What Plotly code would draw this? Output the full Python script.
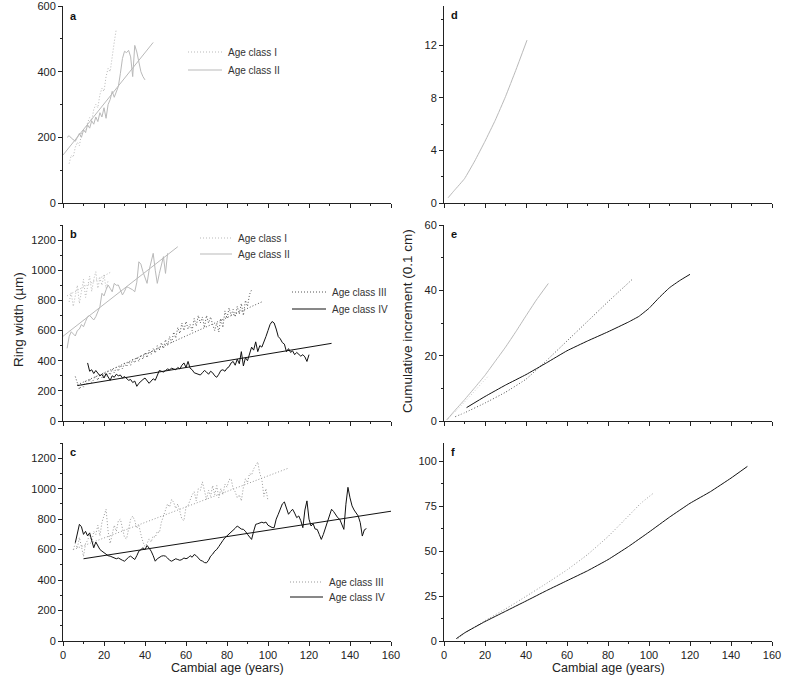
import plotly.graph_objects as go
from plotly.subplots import make_subplots

# ---------------- DATA ----------------
# Panel a (ring width, µm)
a_I_age = [3,4,5,6,7,8,9,10,11,12,13,14,15,16,17,18,19,20,21,22,23,24,25,26]
a_I_val = [120,145,140,170,185,175,210,225,215,245,260,250,285,300,290,330,350,340,385,410,400,450,490,530]
a_II_age = list(range(2, 41))
a_II_val = [200,205,198,192,188,200,212,200,222,215,238,228,250,240,262,248,275,262,290,258,
            300,315,340,322,338,355,395,440,462,458,465,445,385,480,460,430,400,385,375]
a_II_fit_age = [0, 44]
a_II_fit_val = [146, 489]

# Panel b
b_I_age = list(range(3, 23))
b_I_val = [790,850,760,830,900,780,870,940,820,900,960,860,940,990,880,950,900,970,880,930]
b_I_fit_age = [2, 23]
b_I_fit_val = [830, 985]
b_II_age = list(range(2, 52))
b_II_val = [482,560,592,575,564,600,610,640,625,660,692,700,681,670,692,720,758,847,830,870,
            902,880,857,913,900,902,870,836,860,891,885,880,870,857,920,1056,1040,990,957,913,
            1000,1056,1112,1000,913,979,1040,1090,979,1112]
b_II_fit_age = [0, 56]
b_II_fit_val = [562, 1156]
b_III_age = list(range(6, 93))
b_III_val = [295,250,210,240,225,265,240,280,255,275,300,270,310,285,320,295,330,305,345,320,
             355,330,370,345,385,360,395,370,410,385,425,395,440,410,455,420,470,440,480,450,
             500,470,520,480,540,500,560,520,590,550,620,580,650,600,660,610,640,600,680,630,
             700,650,690,620,700,650,690,640,600,650,590,680,620,730,680,750,700,740,690,760,
             710,780,700,800,760,840,870]
b_III_fit_age = [7, 97]
b_III_fit_val = [240, 790]
b_IV_age = list(range(12, 121))
b_IV_val = [385,330,340,315,335,320,300,310,285,315,290,270,300,290,310,300,305,285,295,280,
            270,275,255,265,230,250,265,275,285,265,250,265,280,270,300,335,330,325,335,345,
            340,350,345,340,355,345,370,385,355,395,350,340,320,315,310,305,320,335,325,310,
            330,320,300,290,310,335,340,330,350,360,385,395,370,410,380,460,365,420,400,450,
            490,470,525,460,500,490,520,560,600,640,660,650,610,560,545,520,510,460,480,455,
            465,440,455,445,430,440,425,395,440]
b_IV_fit_age = [7, 131]
b_IV_fit_val = [235, 515]

# Panel c
c_III_age = list(range(5, 101))
c_III_val = [600,640,610,680,620,555,640,660,700,650,720,700,760,690,780,820,865,720,640,700,
             760,720,790,800,740,680,670,740,800,820,790,740,760,700,650,620,640,670,650,690,
             680,720,710,780,820,860,900,880,930,910,870,900,840,800,790,880,890,930,960,980,
             920,1000,990,1045,980,930,990,950,1020,960,1020,940,1000,960,1030,1010,1060,1065,1000,980,
             940,960,920,1010,1065,1040,1100,1090,1130,1150,1175,1100,1060,950,1000,920]
c_III_fit_age = [5, 110]
c_III_fit_val = [600, 1135]
c_IV_age = list(range(6, 149))
c_IV_val = [645,710,766,750,700,720,690,710,667,612,650,620,601,590,579,570,560,557,550,546,
            540,545,535,530,524,540,550,557,545,535,560,590,600,612,600,627,610,590,560,524,
            540,550,557,560,557,545,530,524,530,540,535,530,535,545,540,546,560,550,568,560,
            545,530,525,515,513,530,557,570,590,601,620,645,660,678,690,700,710,722,740,755,
            745,735,733,720,700,680,667,720,766,770,777,780,775,781,760,750,745,744,800,832,
            870,900,913,870,832,850,865,840,810,821,790,744,860,920,800,755,770,735,733,700,
            667,700,740,777,820,865,850,830,810,799,760,733,898,1009,940,887,860,840,821,777,
            689,730,738]
c_IV_fit_age = [10, 160]
c_IV_fit_val = [540, 852]

# Panel d (cumulative increment, 0.1 cm)
d_II_age = [2,5,10,15,20,25,30,35,40.5]
d_II_val = [0.4,0.95,1.85,3.2,4.7,6.3,8.1,10.1,12.4]

# Panel e
e_I_age = [2,6,10,14,18,22]
e_I_val = [0.7,3.2,5.8,8.5,11.3,14.0]
e_II_age = [1.3,5,10,15,20,25,30,35,40,45,50.9]
e_II_val = [0.3,3.0,6.5,10.2,14.0,18.3,22.6,27.3,32.2,37.0,42.1]
e_III_age = [5.4,10,20,30,40,50,60,70,80,92.4]
e_III_val = [1.3,2.5,5.5,8.8,12.8,18.5,24.5,30.5,36.5,43.7]
e_IV_age = [11,20,30,40,50,60,70,80,90,95,100,105,110,115,120]
e_IV_val = [4.1,7.5,11.0,14.2,17.8,21.5,24.5,27.3,30.3,32.0,34.5,37.8,40.8,43.0,44.9]

# Panel f
f_III_age = [6.7,10,20,30,40,50,60,70,80,90,96,102]
f_III_val = [1.3,4.3,11.3,17.8,24.8,32.0,39.5,48.0,58.0,69.5,76.5,82.0]
f_IV_age = [6,10,20,30,40,50,60,70,80,90,100,110,120,130,140,148]
f_IV_val = [1.3,4.5,10.8,16.5,22.2,28.0,33.5,39.0,45.2,52.5,60.5,68.8,76.5,83.0,90.5,97.0]

# ---------------- STYLE ----------------
LIGHT = '#b9b9b9'
DARKDOT = '#555555'
MIDDOT = '#999999'
BLACK = '#111111'
DOT = '1px,2px'
FONT = 'Liberation Sans, Arial, sans-serif'

fig = make_subplots(rows=3, cols=2)

def add(x, y, row, col, color, dash='solid', name=None, width=1):
    fig.add_trace(go.Scatter(x=x, y=y, mode='lines', name=name, showlegend=False,
                             line=dict(color=color, width=width, dash=dash, shape='spline', smoothing=0.3)),
                  row=row, col=col)

def addl(x, y, row, col, color, dash='solid', name=None, width=1):
    fig.add_trace(go.Scatter(x=x, y=y, mode='lines', name=name, showlegend=False,
                             line=dict(color=color, width=width, dash=dash)),
                  row=row, col=col)

# a
addl(a_I_age, a_I_val, 1, 1, LIGHT, DOT, 'Age class I')
addl(a_II_age, a_II_val, 1, 1, LIGHT, 'solid', 'Age class II')
addl(a_II_fit_age, a_II_fit_val, 1, 1, LIGHT, 'solid')
# b
addl(b_I_age, b_I_val, 2, 1, LIGHT, DOT, 'Age class I')
addl(b_I_fit_age, b_I_fit_val, 2, 1, LIGHT, DOT)
addl(b_II_age, b_II_val, 2, 1, LIGHT, 'solid', 'Age class II')
addl(b_II_fit_age, b_II_fit_val, 2, 1, LIGHT, 'solid')
addl(b_III_age, b_III_val, 2, 1, DARKDOT, DOT, 'Age class III')
addl(b_III_fit_age, b_III_fit_val, 2, 1, DARKDOT, DOT)
addl(b_IV_age, b_IV_val, 2, 1, BLACK, 'solid', 'Age class IV')
addl(b_IV_fit_age, b_IV_fit_val, 2, 1, BLACK, 'solid')
# c
addl(c_III_age, c_III_val, 3, 1, MIDDOT, DOT, 'Age class III')
addl(c_III_fit_age, c_III_fit_val, 3, 1, MIDDOT, DOT)
addl(c_IV_age, c_IV_val, 3, 1, BLACK, 'solid', 'Age class IV')
addl(c_IV_fit_age, c_IV_fit_val, 3, 1, BLACK, 'solid')
# d
add(d_II_age, d_II_val, 1, 2, LIGHT, 'solid', 'Age class II')
# e
add(e_I_age, e_I_val, 2, 2, '#cfcfcf', DOT, 'Age class I')
add(e_II_age, e_II_val, 2, 2, LIGHT, 'solid', 'Age class II')
add(e_III_age, e_III_val, 2, 2, DARKDOT, DOT, 'Age class III')
add(e_IV_age, e_IV_val, 2, 2, BLACK, 'solid', 'Age class IV')
# f
add(f_III_age, f_III_val, 3, 2, MIDDOT, DOT, 'Age class III')
add(f_IV_age, f_IV_val, 3, 2, BLACK, 'solid', 'Age class IV')

W, H = 800, 682
def px(x):
    return x / W
def py(y):
    return 1 - y / H

xdom = {1: [px(63), px(391)], 2: [px(444), px(772)]}
ydom = {1: [py(203), py(6)], 2: [py(421), py(225)], 3: [py(641), py(443)]}

yranges = {(1, 1): (600, 200, 100), (2, 1): (1300, 200, 100), (3, 1): (1300, 200, 100),
           (1, 2): (15, 4, 2), (2, 2): (60, 20, 10), (3, 2): (110, 25, 12.5)}

tickfont = dict(family=FONT, size=11, color='#222')
for r in (1, 2, 3):
    for c in (1, 2):
        fig.update_xaxes(row=r, col=c, domain=xdom[c], range=[0, 160], dtick=20, tick0=0,
                         showline=True, linecolor='#222', linewidth=1, ticks='outside',
                         ticklen=4, tickcolor='#222', showgrid=False, zeroline=False,
                         showticklabels=(r == 3), tickfont=tickfont, automargin=False,
                         ticklabeloverflow='allow',
                         minor=dict(dtick=10, ticks='outside', ticklen=2, tickcolor='#222', showgrid=False))
        top, dt, mdt = yranges[(r, c)]
        fig.update_yaxes(row=r, col=c, domain=ydom[r], range=[0, top], dtick=dt, tick0=0,
                         showline=True, linecolor='#222', linewidth=1, ticks='outside',
                         ticklen=4, tickcolor='#222', showgrid=False, zeroline=False,
                         tickfont=tickfont, automargin=False, ticklabeloverflow='allow',
                         minor=dict(dtick=mdt, ticks='outside', ticklen=2, tickcolor='#222', showgrid=False))

shapes = []
annotations = []

def legend_item(x0, x1, y, color, dash, text):
    shapes.append(dict(type='line', xref='paper', yref='paper', x0=px(x0), x1=px(x1),
                       y0=py(y), y1=py(y), line=dict(color=color, width=1, dash=dash)))
    annotations.append(dict(xref='paper', yref='paper', x=px(x1 + 4), y=py(y), text=text,
                            showarrow=False, xanchor='left', yanchor='middle',
                            font=dict(family=FONT, size=10, color='#333')))

legend_item(188, 222, 52, LIGHT, DOT, 'Age class I')
legend_item(188, 222, 70, LIGHT, 'solid', 'Age class II')
legend_item(200, 232, 238, LIGHT, DOT, 'Age class I')
legend_item(200, 232, 254, LIGHT, 'solid', 'Age class II')
legend_item(292, 326, 292, DARKDOT, DOT, 'Age class III')
legend_item(292, 326, 309, BLACK, 'solid', 'Age class IV')
legend_item(290, 323, 582, MIDDOT, DOT, 'Age class III')
legend_item(290, 323, 597, BLACK, 'solid', 'Age class IV')

for lab, x, y in [('a', 68, 16), ('b', 68, 234), ('c', 68, 452),
                  ('d', 449, 15), ('e', 449, 234), ('f', 449, 452)]:
    annotations.append(dict(xref='paper', yref='paper', x=px(x), y=py(y), text='<b>%s</b>' % lab,
                            showarrow=False, xanchor='left', yanchor='middle',
                            font=dict(family=FONT, size=11, color='#111')))

annotations.append(dict(xref='paper', yref='paper', x=px(18), y=py(320), text='Ring width (µm)',
                        showarrow=False, textangle=-90, xanchor='center', yanchor='middle',
                        font=dict(family=FONT, size=13.5, color='#222')))
annotations.append(dict(xref='paper', yref='paper', x=px(407), y=py(321),
                        text='Cumulative increment (0.1 cm)',
                        showarrow=False, textangle=-90, xanchor='center', yanchor='middle',
                        font=dict(family=FONT, size=13.5, color='#222')))
annotations.append(dict(xref='paper', yref='paper', x=px(227), y=py(668), text='Cambial age (years)',
                        showarrow=False, xanchor='center', yanchor='middle',
                        font=dict(family=FONT, size=12.5, color='#222')))
annotations.append(dict(xref='paper', yref='paper', x=px(608), y=py(668), text='Cambial age (years)',
                        showarrow=False, xanchor='center', yanchor='middle',
                        font=dict(family=FONT, size=12.5, color='#222')))

fig.update_layout(width=W, height=H, margin=dict(l=0, r=0, t=0, b=0, autoexpand=False),
                  paper_bgcolor='white', plot_bgcolor='white', showlegend=False,
                  shapes=shapes, annotations=annotations,
                  font=dict(family=FONT, size=11, color='#222'))

# remove the browser's default 8px page margin so the figure fills the window exactly
fig.write_html('out.html', config={'displayModeBar': False},
               post_script="document.body.style.margin='0';document.body.style.overflow='hidden';")
